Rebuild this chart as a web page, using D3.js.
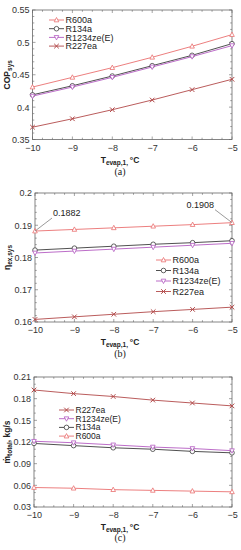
<!DOCTYPE html>
<html>
<head>
<meta charset="utf-8">
<script src="https://cdn.jsdelivr.net/npm/d3@7"></script>
<style>
body { margin: 0; background: #fff; }
svg { display: block; font-family: "Liberation Sans", Arial, sans-serif; }
</style>
</head>
<body>
<svg id="chart" width="241" height="550"></svg>
<script>
// temperatures d'évaporation
const tEvap = [-10, -9, -8, -7, -6, -5];
const fluids = ["R600a", "R134a", "R1234ze(E)", "R227ea"];

// (a) COP
const copR600a = [0.431, 0.446, 0.461, 0.477, 0.494, 0.512];
const copR134a = [0.419, 0.433, 0.448, 0.464, 0.480, 0.498];
const copR1234ze = [0.417, 0.431, 0.446, 0.462, 0.478, 0.495];
const copR227ea = [0.369, 0.382, 0.396, 0.411, 0.427, 0.443];
const copTicks = [0.35, 0.4, 0.45, 0.5, 0.55];

// (b) rendement exergétique
const exR600a = [0.1882, 0.1887, 0.1892, 0.1897, 0.1902, 0.1908];
const exR134a = [0.1823, 0.1829, 0.1835, 0.1841, 0.1846, 0.1852];
const exR1234ze = [0.1814, 0.1820, 0.1826, 0.1832, 0.1838, 0.1844];
const exR227ea = [0.1608, 0.1616, 0.1624, 0.1632, 0.1639, 0.1646];
const exTicks = [0.16, 0.17, 0.18, 0.19, 0.2];
const exNotes = ["0.1882", "0.1908"];

// (c) débit total
const mR600a = [0.057, 0.056, 0.054, 0.053, 0.052, 0.051];
const mR134a = [0.118, 0.115, 0.112, 0.110, 0.107, 0.105];
const mR1234ze = [0.121, 0.119, 0.116, 0.113, 0.111, 0.108];
const mR227ea = [0.192, 0.187, 0.183, 0.178, 0.174, 0.170];
const mTicks = [0.03, 0.06, 0.09, 0.12, 0.15, 0.18, 0.21];

const colors = {"R600a": "#ea7070", "R134a": "#3c3c3c", "R1234ze(E)": "#b45cc2", "R227ea": "#b24a4a"};
const symbols = {"R600a": "up", "R134a": "circle", "R1234ze(E)": "down", "R227ea": "cross"};

const svg = d3.select("#chart");

function marker(g, kind, x, y, color) {
    const r = 2.3;
    if (kind == "circle") {
        g.append("circle").attr("cx", x).attr("cy", y).attr("r", r)
            .attr("fill", "#fff").attr("stroke", color).attr("stroke-width", 0.8);
    } else if (kind == "up" || kind == "down") {
        const s = kind == "up" ? 1 : -1;
        g.append("path")
            .attr("d", `M${x},${y - s * r * 1.1}L${x + r},${y + s * r * 0.8}L${x - r},${y + s * r * 0.8}Z`)
            .attr("fill", "#fff").attr("stroke", color).attr("stroke-width", 0.8);
    } else {
        g.append("path")
            .attr("d", `M${x - r},${y - r}L${x + r},${y + r}M${x - r},${y + r}L${x + r},${y - r}`)
            .attr("stroke", color).attr("stroke-width", 1);
    }
}

function panel(p) {
    const g = svg.append("g");
    const x = d3.scaleLinear().domain([-10, -5]).range([p.left, 232]);
    const y = d3.scaleLinear().domain(p.ydom).range([p.bottom, p.top]);

    // ticks mineurs + majeurs, vers l'intérieur
    const xMinor = d3.range(-10, -4.99, 0.25);
    const yMinor = d3.range(p.ydom[0], p.ydom[1] + 1e-9, p.yminor);
    const tk = g.append("g").attr("stroke", "#666").attr("stroke-width", 0.6);
    xMinor.forEach(v => {
        const L = Math.abs(v - Math.round(v)) < 1e-6 ? 3 : 1.8;
        tk.append("line").attr("x1", x(v)).attr("x2", x(v)).attr("y1", p.bottom).attr("y2", p.bottom - L);
        tk.append("line").attr("x1", x(v)).attr("x2", x(v)).attr("y1", p.top).attr("y2", p.top + L);
    });
    yMinor.forEach(v => {
        const L = p.yticks.some(t => Math.abs(t - v) < 1e-6) ? 3 : 1.8;
        tk.append("line").attr("y1", y(v)).attr("y2", y(v)).attr("x1", p.left).attr("x2", p.left + L);
        tk.append("line").attr("y1", y(v)).attr("y2", y(v)).attr("x1", 232).attr("x2", 232 - L);
    });

    g.append("rect").attr("x", p.left).attr("y", p.top)
        .attr("width", 232 - p.left).attr("height", p.bottom - p.top)
        .attr("fill", "none").attr("stroke", "#666").attr("stroke-width", 0.8);

    // axes (labels only)
    const xa = g.append("g").attr("transform", `translate(0,${p.bottom})`)
        .call(d3.axisBottom(x).tickValues(tEvap).tickSize(0).tickPadding(5).tickFormat(d3.format("d")));
    const ya = g.append("g").attr("transform", `translate(${p.left},0)`)
        .call(d3.axisLeft(y).tickValues(p.yticks).tickSize(0).tickPadding(3).tickFormat(d => String(+d.toFixed(3))));
    [xa, ya].forEach(a => {
        a.select(".domain").remove();
        a.selectAll("text").attr("font-size", 9).attr("fill", "#333").attr("font-family", "Liberation Sans, Arial");
    });

    // séries
    const line = d3.line().x((d, i) => x(tEvap[i])).y(d => y(d));
    p.series.forEach(s => {
        g.append("path").attr("d", line(s.values)).attr("fill", "none")
            .attr("stroke", colors[s.name]).attr("stroke-width", 0.9);
        s.values.forEach((v, i) => marker(g, symbols[s.name], x(tEvap[i]), y(v), colors[s.name]));
    });

    // légende
    const fs = p.legendFont || 9;
    p.legendOrder.forEach((name, i) => {
        const ly = p.legend[1] + i * p.legend[2];
        g.append("line").attr("x1", p.legend[0]).attr("x2", p.legend[0] + 15)
            .attr("y1", ly).attr("y2", ly).attr("stroke", colors[name]).attr("stroke-width", 0.9);
        marker(g, symbols[name], p.legend[0] + 7.5, ly, colors[name]);
        g.append("text").attr("x", p.legend[0] + 16.5).attr("y", ly + fs * 0.36)
            .attr("font-size", fs).attr("fill", "#222").text(name);
    });

    // titres des axes
    const xl = g.append("text").attr("x", 120).attr("y", p.bottom + 23)
        .attr("text-anchor", "middle").attr("font-size", 8.5).attr("font-weight", "bold").attr("fill", "#222");
    xl.append("tspan").text("T");
    xl.append("tspan").attr("font-size", 6.5).attr("dy", 2).text("evap,1, ");
    xl.append("tspan").attr("dy", -2).text("°C");

    const yl = g.append("text").attr("transform", `translate(10,${(p.top + p.bottom) / 2}) rotate(-90)`)
        .attr("text-anchor", "middle").attr("font-size", 8.5).attr("font-weight", "bold").attr("fill", "#222");
    yl.append("tspan").text(p.ylabel[0]);
    yl.append("tspan").attr("font-size", 6.5).attr("dy", 2).text(p.ylabel[1]);
    if (p.ylabel[2]) yl.append("tspan").attr("dy", -2).text(p.ylabel[2]);

    svg.append("text").attr("x", 120).attr("y", p.bottom + p.capGap).attr("text-anchor", "middle")
        .attr("font-family", "Liberation Serif, Times New Roman, serif").attr("font-size", 10)
        .attr("fill", "#222").text(p.caption);

    return {x, y, g};
}

panel({
    left: 32.5, top: 10, bottom: 139.5, ydom: [0.35, 0.55], yticks: copTicks, yminor: 0.01,
    series: [
        {name: "R600a", values: copR600a}, {name: "R134a", values: copR134a},
        {name: "R1234ze(E)", values: copR1234ze}, {name: "R227ea", values: copR227ea}
    ],
    legendOrder: fluids, legend: [49, 20, 8.7],
    ylabel: ["COP", "sys"], caption: "(a)", capGap: 35
});

const pb = panel({
    left: 35, top: 193, bottom: 322, ydom: [0.16, 0.2], yticks: exTicks, yminor: 0.002,
    series: [
        {name: "R600a", values: exR600a}, {name: "R134a", values: exR134a},
        {name: "R1234ze(E)", values: exR1234ze}, {name: "R227ea", values: exR227ea}
    ],
    legendOrder: fluids, legend: [156, 260, 10.5],
    ylabel: ["η", "ex,sys"], caption: "(b)", capGap: 35
});

// annotations (b)
[[0, -1], [5, 1]].forEach(([i, dir], k) => {
    const px = pb.x(tEvap[i]), py = pb.y(k == 0 ? exR600a[0] : exR600a[5]);
    const tx = px - dir * 17, ty = py - 13;
    pb.g.append("line").attr("x1", px).attr("y1", py).attr("x2", tx).attr("y2", ty)
        .attr("stroke", "#555").attr("stroke-width", 0.6);
    pb.g.append("text").attr("x", tx + (dir < 0 ? 1 : -1)).attr("y", ty - 2)
        .attr("text-anchor", dir < 0 ? "start" : "end")
        .attr("font-size", 9).attr("fill", "#222").text(exNotes[k]);
});

panel({
    left: 34, top: 377, bottom: 507, ydom: [0.03, 0.21], yticks: mTicks, yminor: 0.01,
    series: [
        {name: "R600a", values: mR600a}, {name: "R134a", values: mR134a},
        {name: "R1234ze(E)", values: mR1234ze}, {name: "R227ea", values: mR227ea}
    ],
    legendOrder: ["R227ea", "R1234ze(E)", "R134a", "R600a"], legend: [59, 410, 8.7], legendFont: 8.5,
    ylabel: ["ṁ", "total", ", kg/s"], caption: "(c)", capGap: 34
});
</script>
</body>
</html>
